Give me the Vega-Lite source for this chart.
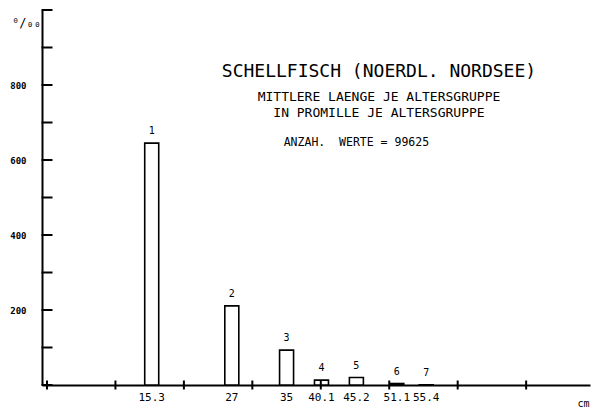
{
  "$schema": "https://vega.github.io/schema/vega-lite/v6.json",
  "width": 548,
  "height": 375,
  "autosize": "none",
  "padding": {"left": 42, "top": 10, "right": 9, "bottom": 25},
  "background": "white",
  "config": {"view": {"stroke": null}, "font": "DejaVu Sans Mono"},
  "datasets": {
    "bars": [
      {"age": "1", "length": 15.3, "promille": 645},
      {"age": "2", "length": 27, "promille": 211},
      {"age": "3", "length": 35, "promille": 93},
      {"age": "4", "length": 40.1, "promille": 13},
      {"age": "5", "length": 45.2, "promille": 20},
      {"age": "6", "length": 51.1, "promille": 4},
      {"age": "7", "length": 55.4, "promille": 0.5}
    ],
    "yticks": [{"v": 0}, {"v": 100}, {"v": 200}, {"v": 300}, {"v": 400}, {"v": 500}, {"v": 600}, {"v": 700}, {"v": 800}, {"v": 900}, {"v": 1000}],
    "xticks": [{"v": 0}, {"v": 10}, {"v": 20}, {"v": 30}, {"v": 40}, {"v": 50}, {"v": 60}, {"v": 70}]
  },
  "layer": [
    {
      "data": {"name": "bars"},
      "mark": {"type": "bar", "size": 14, "fill": "white", "stroke": "black", "strokeWidth": 1.6},
      "encoding": {
        "x": {
          "field": "length", "type": "quantitative",
          "scale": {"domain": [0, 78.6], "nice": false, "zero": false},
          "axis": {"domain": true, "domainColor": "black", "domainWidth": 2, "ticks": false, "labels": false, "grid": false,
                   "title": "cm", "titleX": 541, "titleY": 18, "titleFontSize": 10, "titleFontWeight": "normal", "titleAlign": "center", "titleBaseline": "middle"}
        },
        "y": {
          "field": "promille", "type": "quantitative",
          "scale": {"domain": [0, 1000], "nice": false},
          "axis": {"domain": true, "domainColor": "black", "domainWidth": 2, "ticks": false, "grid": false,
                   "values": [200, 400, 600, 800], "labelPadding": 16, "labelFontSize": 9, "labelFontWeight": "bold", "labelColor": "black",
                   "title": "⁰/₀₀", "titleAngle": 0, "titleX": -16, "titleY": 12, "titleFontSize": 12, "titleFontWeight": "normal", "titleAlign": "center", "titleBaseline": "middle"}
        }
      }
    },
    {
      "data": {"name": "yticks"},
      "mark": {"type": "tick", "orient": "horizontal", "size": 11, "thickness": 2, "color": "black", "opacity": 1},
      "encoding": {
        "x": {"datum": 0, "type": "quantitative"},
        "y": {"field": "v", "type": "quantitative"}
      }
    },
    {
      "data": {"name": "xticks"},
      "mark": {"type": "tick", "orient": "vertical", "size": 9, "thickness": 2, "color": "black", "opacity": 1},
      "encoding": {
        "x": {"field": "v", "type": "quantitative"},
        "y": {"datum": 0, "type": "quantitative"}
      }
    },
    {
      "data": {"name": "bars"},
      "mark": {"type": "text", "dy": -12, "fontSize": 10, "color": "black", "baseline": "middle"},
      "encoding": {
        "x": {"field": "length", "type": "quantitative"},
        "y": {"field": "promille", "type": "quantitative"},
        "text": {"field": "age", "type": "nominal"}
      }
    },
    {
      "data": {"name": "bars"},
      "mark": {"type": "text", "dy": 13, "fontSize": 11, "color": "black", "baseline": "middle"},
      "encoding": {
        "x": {"field": "length", "type": "quantitative"},
        "y": {"datum": 0, "type": "quantitative"},
        "text": {"field": "length", "type": "nominal"}
      }
    },
    {
      "data": {"values": [{"t": "SCHELLFISCH (NOERDL. NORDSEE)"}]},
      "mark": {"type": "text", "fontSize": 18, "color": "black", "baseline": "middle", "align": "center"},
      "encoding": {"x": {"datum": 48.5, "type": "quantitative"}, "y": {"datum": 835, "type": "quantitative"}, "text": {"field": "t"}}
    },
    {
      "data": {"values": [{"t": "MITTLERE LAENGE JE ALTERSGRUPPE"}]},
      "mark": {"type": "text", "fontSize": 13, "color": "black", "baseline": "middle", "align": "center"},
      "encoding": {"x": {"datum": 48.5, "type": "quantitative"}, "y": {"datum": 768, "type": "quantitative"}, "text": {"field": "t"}}
    },
    {
      "data": {"values": [{"t": "IN PROMILLE JE ALTERSGRUPPE"}]},
      "mark": {"type": "text", "fontSize": 13, "color": "black", "baseline": "middle", "align": "center"},
      "encoding": {"x": {"datum": 48.5, "type": "quantitative"}, "y": {"datum": 725, "type": "quantitative"}, "text": {"field": "t"}}
    },
    {
      "data": {"values": [{"t": "ANZAH.\u00a0 WERTE = 99625"}]},
      "mark": {"type": "text", "fontSize": 11.5, "color": "black", "baseline": "middle", "align": "center"},
      "encoding": {"x": {"datum": 45.2, "type": "quantitative"}, "y": {"datum": 645, "type": "quantitative"}, "text": {"field": "t"}}
    }
  ]
}
